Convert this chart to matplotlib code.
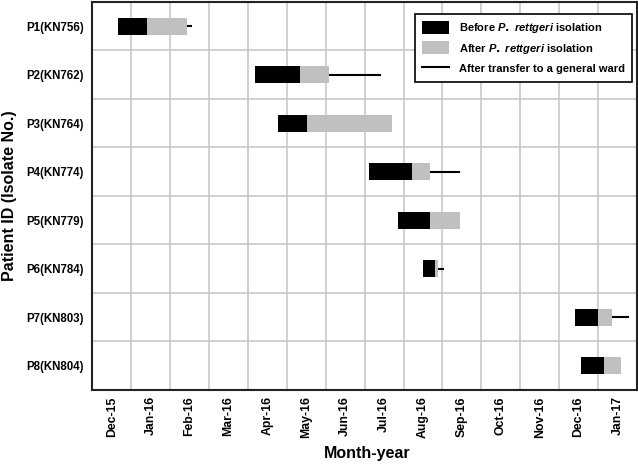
import matplotlib.pyplot as plt
from matplotlib.patches import Patch
from matplotlib.lines import Line2D

plt.rcParams['font.family'] = 'Liberation Sans'
plt.rcParams['font.weight'] = 'bold'
plt.rcParams['mathtext.fontset'] = 'custom'
plt.rcParams['mathtext.it'] = 'Liberation Sans:bold:italic'

# month labels, one cell per month (Dec-15 = 0..1)
months = ['Dec-15', 'Jan-16', 'Feb-16', 'Mar-16', 'Apr-16', 'May-16', 'Jun-16',
          'Jul-16', 'Aug-16', 'Sep-16', 'Oct-16', 'Nov-16', 'Dec-16', 'Jan-17']

patients = ['P1(KN756)', 'P2(KN762)', 'P3(KN764)', 'P4(KN774)',
            'P5(KN779)', 'P6(KN784)', 'P7(KN803)', 'P8(KN804)']

# timeline in months from start of Dec-15
icu_start = [0.66, 4.19, 4.77, 7.12, 7.85, 8.51, 12.41, 12.55]
isolation = [1.40, 5.35, 5.51, 8.22, 8.67, 8.81, 13.00, 13.14]
icu_end = [2.43, 6.09, 7.71, 8.67, 9.46, 8.88, 13.36, 13.59]
ward_end = [2.57, 7.42, None, 9.46, None, 9.03, 13.80, None]

fig, ax = plt.subplots(figsize=(6.38, 4.65), dpi=100)
plt.subplots_adjust(left=0.1447, right=0.9984, top=0.9957, bottom=0.1613)

ypos = list(range(len(patients)))
before = [b - a for a, b in zip(icu_start, isolation)]
after = [c - b for b, c in zip(isolation, icu_end)]

ax.barh(ypos, before, left=icu_start, height=0.35, color='black', zorder=3)
ax.barh(ypos, after, left=isolation, height=0.35, color='#c0c0c0', zorder=3)
for y, s, e in zip(ypos, icu_end, ward_end):
    if e is not None:
        ax.hlines(y, s, e, color='black', linewidth=1.5, zorder=3)

ax.set_xlim(0, len(months))
ax.set_ylim(len(patients) - 0.5, -0.5)

ax.set_xticks([i + 0.5 for i in range(len(months))])
ax.set_xticklabels(months, rotation=90, fontsize=8.8, fontweight='bold')
ax.set_xticks(range(1, len(months)), minor=True)
ax.set_yticks(ypos)
ax.set_yticklabels(patients, fontsize=8.3, fontweight='bold')
ax.set_yticks([i + 0.5 for i in range(len(patients) - 1)], minor=True)
ax.tick_params(which='both', length=0)
ax.tick_params(axis='x', pad=4.5)
ax.tick_params(axis='y', pad=6)
ax.grid(True, which='minor', color='#c8c8c8', linewidth=1.2)
ax.grid(False, which='major')

for sp in ax.spines.values():
    sp.set_linewidth(1.5)
    sp.set_color('#222222')

ax.set_xlabel('Month-year', fontsize=11.5, fontweight='bold')
ax.set_ylabel('Patient ID (Isolate No.)', fontsize=11.5, fontweight='bold')
ax.xaxis.set_label_coords(0.504, -0.144)
ax.yaxis.set_label_coords(-0.138, 0.5)

handles = [Patch(facecolor='black', edgecolor='none'),
           Patch(facecolor='#c0c0c0', edgecolor='none'),
           Line2D([0], [0], color='black', linewidth=1.5)]
labels = [r'Before $\mathit{P.}$ $\mathit{rettgeri}$ isolation',
          r'After $\mathit{P.}$ $\mathit{rettgeri}$ isolation',
          'After transfer to a general ward']
leg = ax.legend(handles, labels, loc='upper right', bbox_to_anchor=(0.991, 0.969),
                borderaxespad=0, fancybox=False, framealpha=1, edgecolor='black',
                fontsize=8, handlelength=2.5, handleheight=1.4, labelspacing=0.6,
                handletextpad=0.9, borderpad=0.6)
leg.get_frame().set_linewidth(1.2)
leg.set_zorder(5)

plt.savefig('out.png', dpi=100)
